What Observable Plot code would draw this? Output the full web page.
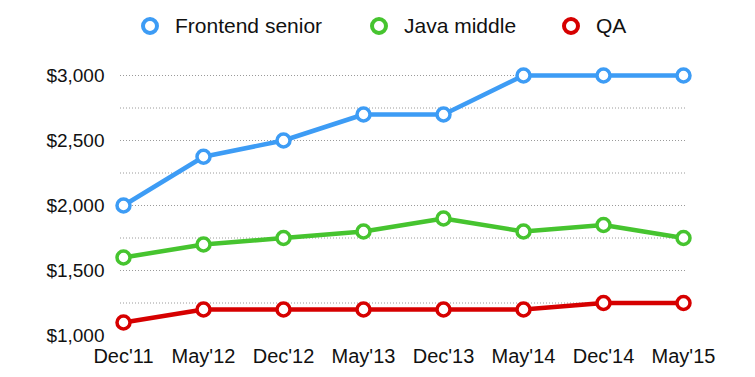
<!DOCTYPE html>
<html>
<head>
<meta charset="utf-8">
<script src="https://cdn.jsdelivr.net/npm/d3@7"></script>
<script src="https://cdn.jsdelivr.net/npm/@observablehq/plot@0.6"></script>
<style>
  body { margin: 0; background: #fff; font-family: "Liberation Sans", Arial, sans-serif; }
  #legend { height: 50px; position: relative; width: 755px; }
  .item { position: absolute; top: 14px; display: flex; align-items: center; font-size: 21px; line-height: 24px; color: #111; }
  .dot { box-sizing: border-box; width: 18px; height: 18px; border-radius: 50%; border: 4px solid; background: #fff; margin-right: 16px; }
</style>
</head>
<body>
<div id="legend"></div>
<div id="chart"></div>
<script>
const periods = ["Dec'11", "May'12", "Dec'12", "May'13", "Dec'13", "May'14", "Dec'14", "May'15"];
const frontendSenior = [2000, 2375, 2500, 2700, 2700, 3000, 3000, 3000];
const javaMiddle = [1600, 1700, 1750, 1800, 1900, 1800, 1850, 1750];
const qa = [1100, 1200, 1200, 1200, 1200, 1200, 1250, 1250];
const seriesNames = ["Frontend senior", "Java middle", "QA"];
const seriesColors = ["#3d9cf5", "#46c42f", "#d60000"];
const yTickValues = [1000, 1500, 2000, 2500, 3000];
const gridValues = [1250, 1500, 1750, 2000, 2250, 2500, 2750, 3000];

const seriesValues = [frontendSenior, javaMiddle, qa];
const data = [];
seriesNames.forEach((s, i) => periods.forEach((p, j) => data.push({series: s, period: p, value: seriesValues[i][j]})));

// legend
const legendX = [141, 370, 562];
const legend = document.getElementById("legend");
seriesNames.forEach((s, i) => {
  const el = document.createElement("div");
  el.className = "item";
  el.style.left = legendX[i] + "px";
  el.innerHTML = `<span class="dot" style="border-color:${seriesColors[i]}"></span><span>${s}</span>`;
  legend.appendChild(el);
});

const plot = Plot.plot({
  width: 755,
  height: 327,
  marginLeft: 120,
  marginRight: 70,
  marginTop: 25,
  marginBottom: 42,
  style: {fontFamily: "Liberation Sans, Arial, sans-serif", fontSize: "19px", color: "#111", background: "#fff"},
  x: {type: "point", domain: periods, padding: 0, label: null},
  y: {domain: [1000, 3000], label: null},
  color: {domain: seriesNames, range: seriesColors},
  marks: [
    Plot.ruleY(gridValues, {stroke: "#9a9a9a", strokeWidth: 1, strokeDasharray: "1,2"}),
    Plot.axisX({tickSize: 0, tickPadding: 13, fontSize: 20}),
    Plot.axisY({ticks: yTickValues, tickSize: 0, tickPadding: 16, tickFormat: d => "$" + d3.format(",")(d), fontSize: 19}),
    Plot.line(data, {x: "period", y: "value", z: "series", stroke: "series", strokeWidth: 4.5}),
    Plot.dot(data, {x: "period", y: "value", stroke: "series", fill: "white", r: 6.5, strokeWidth: 3.5})
  ]
});
document.getElementById("chart").appendChild(plot);
</script>
</body>
</html>
